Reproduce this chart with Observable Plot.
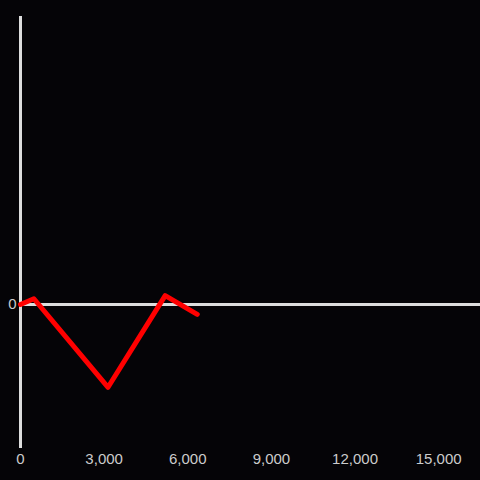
<!DOCTYPE html>
<html>
<head>
<meta charset="utf-8">
<script src="https://cdn.jsdelivr.net/npm/d3@7"></script>
<script src="https://cdn.jsdelivr.net/npm/@observablehq/plot@0.6"></script>
<style>
  html, body { margin: 0; padding: 0; background: #050407; }
  #chart { width: 480px; height: 480px; }
</style>
</head>
<body>
<div id="chart"></div>
<script>
const xValues = [0, 480, 3140, 5190, 6340];
const yValues = [0, 40, -575, 62, -68];
const xTicks = [0, 3000, 6000, 9000, 12000, 15000];
const yTicks = [0];
const xDomain = [0, 16500];
const yDomain = [-1000, 2000];

const data = xValues.map((x, i) => ({x, y: yValues[i]}));

const chart = Plot.plot({
  width: 480,
  height: 480,
  marginLeft: 20,
  marginRight: 0,
  marginTop: 16,
  marginBottom: 32,
  style: {background: "#050407", color: "#cccccc", fontFamily: "'Liberation Sans', Arial, sans-serif"},
  x: {domain: xDomain, label: null},
  y: {domain: yDomain, label: null},
  marks: [
    Plot.axisX({ticks: xTicks, tickFormat: d3.format(","), tickSize: 0, tickPadding: 5, fontSize: 15, label: null, fill: "#cccccc"}),
    Plot.axisY({ticks: yTicks, tickSize: 0, tickPadding: 4, fontSize: 15, label: null, fill: "#cccccc"}),
    Plot.ruleX([0], {stroke: "#dddddd", strokeWidth: 3}),
    Plot.ruleY([0], {stroke: "#dddddd", strokeWidth: 3}),
    Plot.line(data, {x: "x", y: "y", stroke: "#ff0000", strokeWidth: 5})
  ]
});
document.getElementById("chart").appendChild(chart);
</script>
</body>
</html>
